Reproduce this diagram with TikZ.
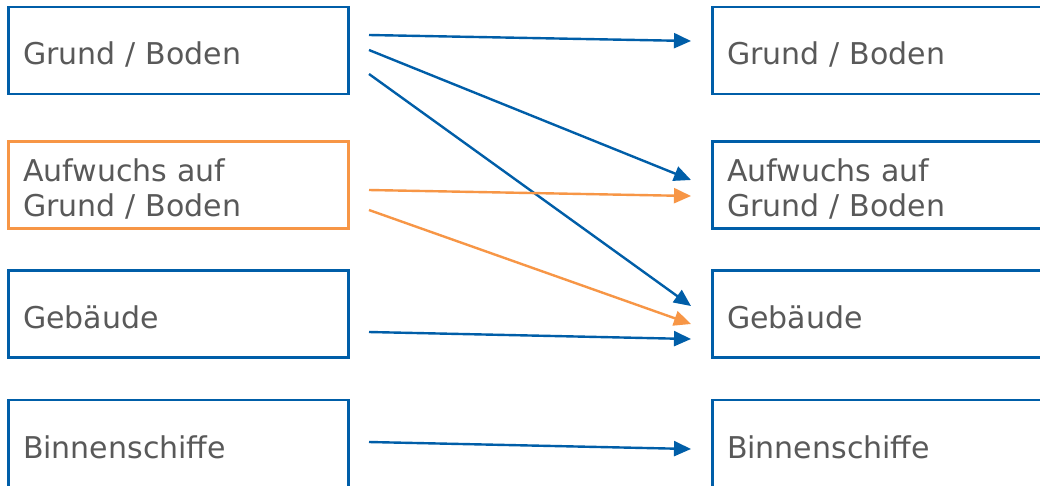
\documentclass[tikz,border=0pt]{standalone}
\usepackage{fontspec}
\setmainfont{DejaVu Sans}
\usetikzlibrary{arrows.meta}
\definecolor{bblue}{RGB}{0,94,168}
\definecolor{borange}{RGB}{247,150,70}
\definecolor{tgray}{RGB}{89,89,89}
\begin{document}
\begin{tikzpicture}[x=1pt,y=-1pt,
  box/.style={draw=bblue,line width=2.8pt,minimum width=340pt,minimum height=87pt,
    text width=311pt,align=left,inner xsep=14.5pt,inner ysep=0pt,
    font=\fontsize{30}{35}\selectfont,text=tgray,
    execute at begin node={\rule{0pt}{30pt}}},
  obox/.style={box,draw=borange},
  conn/.style={draw=bblue,line width=2.4pt,-{Triangle[length=17pt,width=15pt]}},
  oconn/.style={conn,draw=borange,fill=borange}]
\useasboundingbox (0,0) rectangle (1040,485);
\clip (0,0) rectangle (1040,485);
\fill[white] (0,0) rectangle (1040,485);
% left boxes
\node[box]  (L1) at (178.5,50.5)  {Grund / Boden};
\node[obox] (L2) at (178.5,185)   {Aufwuchs auf\\Grund / Boden};
\node[box]  (L3) at (178.5,314)   {Gebäude};
\node[box]  (L4) at (178.5,443.5) {Binnenschiffe};
% right boxes
\node[box]  (R1) at (882.5,50.5)  {Grund / Boden};
\node[box]  (R2) at (882.5,185)   {Aufwuchs auf\\Grund / Boden};
\node[box]  (R3) at (882.5,314)   {Gebäude};
\node[box]  (R4) at (882.5,443.5) {Binnenschiffe};
% connector end points
\coordinate (s1) at (369,35);  \coordinate (e1) at (691,41);
\coordinate (s2) at (369,50);  \coordinate (e2) at (691,180);
\coordinate (s3) at (369,74);  \coordinate (e3) at (691,306);
\coordinate (s4) at (369,190); \coordinate (e4) at (691,196);
\coordinate (s5) at (369,210); \coordinate (e5) at (691,324);
\coordinate (s6) at (369,332); \coordinate (e6) at (691,339);
\coordinate (s7) at (369,442); \coordinate (e7) at (691,449);
% connectors
\draw[conn] (s1) -- (e1);
\draw[conn] (s2) -- (e2);
\draw[conn] (s3) -- (e3);
\draw[oconn] (s4) -- (e4);
\draw[oconn] (s5) -- (e5);
\draw[conn] (s6) -- (e6);
\draw[conn] (s7) -- (e7);
\end{tikzpicture}
\end{document}
